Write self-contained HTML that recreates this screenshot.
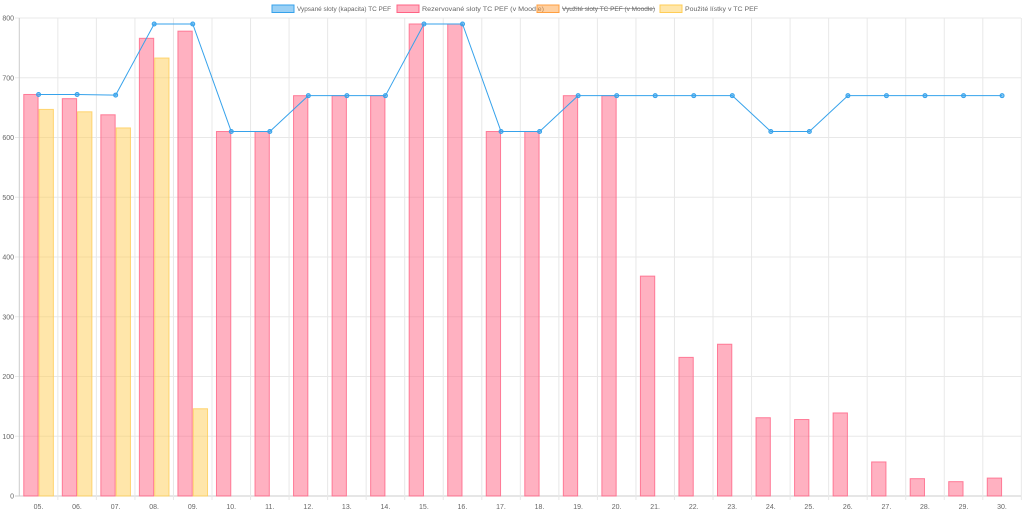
<!DOCTYPE html>
<html><head><meta charset="utf-8"><style>
html,body{margin:0;padding:0;background:#fff;width:1024px;height:513px;overflow:hidden}
svg{display:block;font-family:"Liberation Sans",sans-serif}
</style></head><body>
<svg id="c" width="1024" height="513" xmlns="http://www.w3.org/2000/svg">
<g id="grid"></g>
<g id="bars"></g>
<g id="line"></g>
<g font-size="7" fill="#666" text-anchor="end">
<text x="14" y="498.5">0</text><text x="14" y="438.8">100</text><text x="14" y="379">200</text><text x="14" y="319.3">300</text><text x="14" y="259.5">400</text><text x="14" y="199.8">500</text><text x="14" y="140">600</text><text x="14" y="80.3">700</text><text x="14" y="20.5">800</text>
</g>
<g font-size="7" fill="#666" text-anchor="middle" id="xl">
<text x="38.5" y="509">05.</text><text x="77" y="509">06.</text><text x="115.6" y="509">07.</text><text x="154.1" y="509">08.</text><text x="192.7" y="509">09.</text><text x="231.2" y="509">10.</text><text x="269.7" y="509">11.</text><text x="308.3" y="509">12.</text><text x="346.8" y="509">13.</text><text x="385.4" y="509">14.</text><text x="423.9" y="509">15.</text><text x="462.4" y="509">16.</text><text x="501" y="509">17.</text><text x="539.5" y="509">18.</text><text x="578.1" y="509">19.</text><text x="616.6" y="509">20.</text><text x="655.1" y="509">21.</text><text x="693.7" y="509">22.</text><text x="732.2" y="509">23.</text><text x="770.8" y="509">24.</text><text x="809.3" y="509">25.</text><text x="847.8" y="509">26.</text><text x="886.4" y="509">27.</text><text x="924.9" y="509">28.</text><text x="963.5" y="509">29.</text><text x="1002" y="509">30.</text>
</g>
<g font-size="6.4" fill="#666">
<rect x="272" y="5" width="22" height="7.5" fill="rgba(54,162,235,0.5)" stroke="rgb(54,162,235)" stroke-width="1"/>
<text x="297" y="11" textLength="94" lengthAdjust="spacingAndGlyphs">Vypsané sloty (kapacita) TC PEF</text>
<rect x="397" y="5" width="22" height="7.5" fill="rgba(255,99,132,0.5)" stroke="rgb(255,99,132)" stroke-width="1"/>
<text x="422" y="11" textLength="122" lengthAdjust="spacingAndGlyphs">Rezervované sloty TC PEF (v Moodle)</text>
<rect x="537" y="5" width="22" height="7.5" fill="rgba(255,159,64,0.5)" stroke="rgb(255,159,64)" stroke-width="1"/>
<text x="562" y="11" textLength="93" lengthAdjust="spacingAndGlyphs">Využité sloty TC PEF (v Moodle)</text>
<line x1="562" y1="8.5" x2="655" y2="8.5" stroke="#666" stroke-width="0.6"/>
<rect x="660" y="5" width="22" height="7.5" fill="rgba(255,205,86,0.5)" stroke="rgb(255,205,86)" stroke-width="1"/>
<text x="685" y="11" textLength="73" lengthAdjust="spacingAndGlyphs">Použité lístky v TC PEF</text>
</g>
</svg>
<script>
const NS="http://www.w3.org/2000/svg";
function el(p,t,a){const e=document.createElementNS(NS,t);for(const k in a)e.setAttribute(k,a[k]);document.getElementById(p).appendChild(e);return e;}
const L=19.3,W=38.54,Y0=496,S=0.5975;
const y=v=>Y0-v*S;
for(let i=0;i<=8;i++){el("grid","line",{x1:15,x2:1021,y1:y(i*100),y2:y(i*100),stroke:i==0?"#ccc":"#e8e8e8","stroke-width":1});}
for(let i=0;i<=26;i++){const x=L+i*W;el("grid","line",{x1:x,x2:x,y1:18,y2:i==0?496:500,stroke:i==0?"#ccc":"#e8e8e8","stroke-width":1});}
const pink=[672,665,638,766,778,610,610,670,670,670,790,790,610,610,670,670,368,232,254,131,128,139,57,29,24,30];
const yel=[647,643,616,733,146];
const ln=[672,672,671,790,790,610,610,670,670,670,790,790,610,610,670,670,670,670,670,610,610,670,670,670,670,670];
pink.forEach((v,i)=>{const c=L+W*(i+0.5);el("bars","rect",{x:c-14.8,y:y(v),width:14.3,height:v*S,fill:"rgba(255,99,132,0.5)",stroke:"rgba(255,99,132,0.8)","stroke-width":1});});
yel.forEach((v,i)=>{const c=L+W*(i+0.5);el("bars","rect",{x:c+0.5,y:y(v),width:14.3,height:v*S,fill:"rgba(255,205,86,0.5)",stroke:"rgba(255,205,86,0.8)","stroke-width":1});});
el("line","polyline",{points:ln.map((v,i)=>(L+W*(i+0.5))+","+y(v)).join(" "),fill:"none",stroke:"rgb(54,162,235)","stroke-width":1});
ln.forEach((v,i)=>el("line","circle",{cx:L+W*(i+0.5),cy:y(v),r:2,fill:"rgba(54,162,235,0.6)",stroke:"rgb(54,162,235)","stroke-width":1}));
</script>
</body></html>
